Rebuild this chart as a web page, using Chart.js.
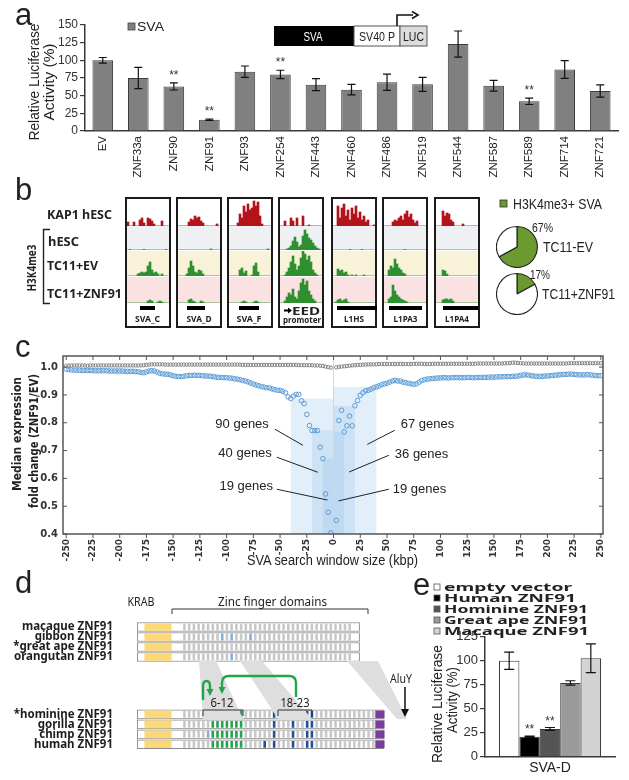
<!DOCTYPE html>
<html><head><meta charset="utf-8">
<script src="https://cdn.jsdelivr.net/npm/chart.js@4.4.0/dist/chart.umd.min.js"></script>
<style>
body{margin:0;width:629px;height:780px;position:relative;background:#fff;overflow:hidden;font-family:"Liberation Sans",Arial,sans-serif}
canvas{position:absolute;display:block}
.frame{position:absolute;box-sizing:border-box;border:2px solid #1b1b1b;z-index:4}
.blk{position:absolute;background:#000;z-index:4}
</style></head><body>

<canvas id="ca" width="629" height="185" style="left:0px;top:0px"></canvas>
<canvas id="cc" width="629" height="240" style="left:0px;top:335px"></canvas>
<canvas id="cd" width="420" height="170" style="left:0px;top:600px"></canvas>
<canvas id="ce" width="209" height="160" style="left:420px;top:620px"></canvas>
<canvas id="pie1" width="42" height="42" style="left:496px;top:226px"></canvas>
<canvas id="pie2" width="42" height="42" style="left:496px;top:273px"></canvas>
<div id="tracks"></div>

<svg width="629" height="780" style="position:absolute;left:0;top:0;z-index:0;pointer-events:none">
<polygon points="199,661 216,661 243,719 203,719" fill="#dedede"/>
<polygon points="240,661 262,661 312,719 278,719" fill="#dedede"/>
<polygon points="347,661 378,661 407,719 397,719" fill="#dedede"/>
</svg>

<svg width="629" height="780" style="position:absolute;left:0;top:0;z-index:5;pointer-events:none" font-family="Liberation Sans, Arial, sans-serif" fill="#222">
<!-- panel letters -->
<text x="15" y="25" font-size="31">a</text>
<text x="15" y="200" font-size="31">b</text>
<text x="15" y="357" font-size="31">c</text>
<text x="15" y="593" font-size="31">d</text>
<text x="413" y="595" font-size="31">e</text>

<!-- panel a -->
<text transform="translate(34,82) rotate(-90)" text-anchor="middle" dominant-baseline="central" font-size="14" textLength="117" lengthAdjust="spacingAndGlyphs">Relative Luciferase</text>
<text transform="translate(49,82) rotate(-90)" text-anchor="middle" dominant-baseline="central" font-size="14" textLength="77" lengthAdjust="spacingAndGlyphs">Activity (%)</text>
<rect x="128" y="23" width="7" height="7" fill="#7f7f7f" stroke="#444" stroke-width="0.8"/>
<text x="137" y="31" font-size="13" textLength="27" lengthAdjust="spacingAndGlyphs">SVA</text>
<rect x="274" y="26" width="80" height="20" fill="#000"/>
<text x="313" y="41" font-size="13" fill="#fff" text-anchor="middle" textLength="19" lengthAdjust="spacingAndGlyphs">SVA</text>
<rect x="354" y="26" width="46" height="20" fill="#fff" stroke="#555" stroke-width="1"/>
<text x="377" y="41" font-size="13" text-anchor="middle" textLength="36" lengthAdjust="spacingAndGlyphs">SV40 P</text>
<rect x="400" y="26" width="27" height="20" fill="#dcdcdc" stroke="#555" stroke-width="1"/>
<text x="413.5" y="41" font-size="13" text-anchor="middle" textLength="21" lengthAdjust="spacingAndGlyphs">LUC</text>
<path d="M397 26 V15 H413" stroke="#111" stroke-width="1.6" fill="none"/>
<path d="M412 11.5 L418 15 L412 18.5" stroke="#111" stroke-width="1.6" fill="none"/>

<!-- panel b labels -->
<g font-family="Noto Sans, Open Sans, sans-serif" font-weight="bold">
<text x="47" y="219" font-size="13" textLength="65" lengthAdjust="spacingAndGlyphs">KAP1 hESC</text>
<text transform="translate(31,268) rotate(-90)" text-anchor="middle" dominant-baseline="central" font-size="13" textLength="47" lengthAdjust="spacingAndGlyphs">H3K4me3</text>
<text x="48" y="245.5" font-size="13" textLength="31" lengthAdjust="spacingAndGlyphs">hESC</text>
<text x="47" y="270" font-size="13" textLength="51" lengthAdjust="spacingAndGlyphs">TC11+EV</text>
<text x="47" y="298" font-size="13" textLength="75" lengthAdjust="spacingAndGlyphs">TC11+ZNF91</text>
<g font-size="8.5">
<text x="147.5" y="322" text-anchor="middle" textLength="25" lengthAdjust="spacingAndGlyphs">SVA_C</text>
<text x="199" y="322" text-anchor="middle" textLength="25" lengthAdjust="spacingAndGlyphs">SVA_D</text>
<text x="249" y="322" text-anchor="middle" textLength="25" lengthAdjust="spacingAndGlyphs">SVA_F</text>
<text x="306" y="314.5" text-anchor="middle" font-size="10" textLength="28" lengthAdjust="spacingAndGlyphs">EED</text>
<text x="302" y="323" text-anchor="middle" textLength="38" lengthAdjust="spacingAndGlyphs">promoter</text>
<text x="354" y="322" text-anchor="middle" textLength="20" lengthAdjust="spacingAndGlyphs">L1HS</text>
<text x="405.5" y="322" text-anchor="middle" textLength="24" lengthAdjust="spacingAndGlyphs">L1PA3</text>
<text x="457" y="322" text-anchor="middle" textLength="24" lengthAdjust="spacingAndGlyphs">L1PA4</text>
</g>
</g>
<path d="M50 229.5 H43.5 V303.5 H50" stroke="#222" stroke-width="1.4" fill="none"/>
<path d="M284 310.5 H289" stroke="#000" stroke-width="2"/>
<path d="M288 307.5 L292 310.5 L288 313.5 Z" fill="#000"/>
<rect x="500" y="200" width="7" height="7" fill="#6b9a30" stroke="#333" stroke-width="0.8"/>
<text x="513" y="209" font-size="14" textLength="89" lengthAdjust="spacingAndGlyphs">H3K4me3+ SVA</text>
<text x="532" y="232" font-size="13" textLength="21" lengthAdjust="spacingAndGlyphs">67%</text>
<text x="543" y="252" font-size="15" textLength="50" lengthAdjust="spacingAndGlyphs">TC11-EV</text>
<text x="530" y="279" font-size="13" textLength="20" lengthAdjust="spacingAndGlyphs">17%</text>
<text x="542" y="299" font-size="15" textLength="73" lengthAdjust="spacingAndGlyphs">TC11+ZNF91</text>

<!-- panel c titles -->
<g font-weight="bold" font-family="DejaVu Sans, sans-serif">
<text transform="translate(17,434) rotate(-90)" text-anchor="middle" dominant-baseline="central" font-size="12" textLength="114" lengthAdjust="spacingAndGlyphs">Median expression</text>
<text transform="translate(34,441) rotate(-90)" text-anchor="middle" dominant-baseline="central" font-size="12" textLength="134" lengthAdjust="spacingAndGlyphs">fold change (ZNF91/EV)</text>
</g>
<text x="247" y="565" font-size="14" textLength="171" lengthAdjust="spacingAndGlyphs">SVA search window size (kbp)</text>

<!-- panel d decorations -->
<g font-family="Noto Sans, Open Sans, sans-serif">
<text x="141" y="606" font-size="12" text-anchor="middle" textLength="27" lengthAdjust="spacingAndGlyphs">KRAB</text>
<text x="218" y="606" font-size="12.5" textLength="109" lengthAdjust="spacingAndGlyphs">Zinc finger domains</text>
<text x="222" y="707" font-size="13" text-anchor="middle" textLength="23" lengthAdjust="spacingAndGlyphs">6-12</text>
<text x="295" y="707" font-size="13" text-anchor="middle" textLength="29" lengthAdjust="spacingAndGlyphs">18-23</text>
<text x="401" y="683" font-size="12.5" text-anchor="middle" textLength="22" lengthAdjust="spacingAndGlyphs">AluY</text>
</g>
<path d="M172 614 V609 H368 V614" stroke="#333" stroke-width="1" fill="none"/>
<path d="M203 716 V710 H243 V716" stroke="#333" stroke-width="1" fill="none"/>
<path d="M278 716 V710 H312 V716" stroke="#333" stroke-width="1" fill="none"/>
<path d="M405 687 V711" stroke="#111" stroke-width="1.5"/>
<path d="M401 709 L405 717 L409 709 Z" fill="#111"/>
<path d="M203 700 V686 Q203 681 206.5 681 Q210 681 210 686 V690" stroke="#22a548" stroke-width="2.4" fill="none"/>
<path d="M206.5 689 L213.5 689 L210 696 Z" fill="#22a548"/>
<path d="M296 697 V683 Q296 676 289 676 H229 Q222 676 222 683 V688" stroke="#22a548" stroke-width="2.4" fill="none"/>
<path d="M218.5 687 L225.5 687 L222 694 Z" fill="#22a548"/>

<!-- panel e -->
<g font-family="Noto Sans, Open Sans, sans-serif" font-weight="bold" font-size="10.5" id="legE"></g>
<text transform="translate(437,704) rotate(-90)" text-anchor="middle" dominant-baseline="central" font-size="14" textLength="118" lengthAdjust="spacingAndGlyphs">Relative Luciferase</text>
<text transform="translate(452,700) rotate(-90)" text-anchor="middle" dominant-baseline="central" font-size="14" textLength="66" lengthAdjust="spacingAndGlyphs">Activity (%)</text>
</svg>

<script>
// ---------------- Panel a data ----------------
const znfNames = ['EV','ZNF33a','ZNF90','ZNF91','ZNF93','ZNF254','ZNF443','ZNF460','ZNF486','ZNF519','ZNF544','ZNF587','ZNF589','ZNF714','ZNF721'];
const svaActivity = [100,75,63,16,84,80,65.5,58.5,69,66,123,64,42,87,56.5];
const svaError = [4,15,5,1,8,6,8.5,7.5,11.5,10,18.5,7.5,4.5,12.5,8.7];
const svaSignificant = [0,0,1,1,0,1,0,0,0,0,0,0,1,0,0];

// ---------------- Panel b data ----------------
const trackElements = ['SVA_C','SVA_D','SVA_F','EED promoter','L1HS','L1PA3','L1PA4'];
const kap1Signal = [
 [4,0,0,4,0,0,6,8,3,0,8,7,5,2,0,0,0,5,0,0,0],
 [0,0,0,0,0,4,7,6,10,8,9,5,3,0,0,0,0,0,0,2,0],
 [0,0,0,0,3,12,8,20,14,22,16,18,25,20,24,10,2,0,0,0,0],
 [0,0,5,0,0,8,5,0,8,0,0,10,0,0,1,0,0,0,0,0,0],
 [0,0,20,8,18,22,10,16,6,18,12,20,8,14,6,10,4,6,0,0,1],
 [0,0,0,0,4,6,5,8,10,6,12,15,9,12,6,3,5,0,0,0,0],
 [0,0,0,15,10,13,12,6,4,0,0,0,0,2,0,0,0,0,0,0,0]
];
const hescSignal = [
 [0,0.6,0,0,0,0,0,0,0.6,0,0,0,0,0,0,0,0,0,0,0.6,0],
 [0,0,0,0,0,0,0,0,0,0,0,0,0,0,0,0,1,0,0,0,0],
 [0,0,0,0,0,0,0,0,0,0,0,0,0,0,0,0,0,0,0,1,0],
 [0,0,0,1,2,4,9,13,8,3,5,14,20,16,12,10,7,4,2,1,0],
 [0,0,0,0,0,0,0,0,0.6,0,0,0,0,0,0.6,0,0,0,0,0,0],
 [0,0,0,0,0,0,0,0,0,0,0.6,0,0,0,0,0,0,0,0,0,0],
 [0,0,0,0,0,0,0,0,0,0,0,0,0,0,0,0,0,0,0,0,0]
];
const tc11EvSignal = [
 [0,0,0,0,0,2,3,4,3,4,10,14,6,3,4,2,0,2,0,0,0],
 [0,0,0,0,2,8,15,10,4,3,6,5,2,0,0,0,0,0,0,0,0],
 [0,0,0,0,0,6,8,3,5,0,0,1,10,13,4,0,0,0,0,0,0],
 [0,0,1,4,8,14,20,12,6,10,18,25,22,16,20,14,6,3,1,0,0],
 [0,0,7,5,6,3,4,1,0,1,0,1,0,0,0,1,0,0,0,0,0],
 [0,0,6,10,8,17,12,8,6,3,2,0,0,0,0,0,0,0,0,0,0],
 [0,0,0,6,5,2,0,0,0,0,0,0,0,0,0,0,0,0,0,0,0]
];
const tc11Znf91Signal = [
 [0,0,0,0,0,0,0,0,0,0,2,3,2,0,0,1,2,1,0,0,0],
 [0,0,0,0,0,3,4,2,1,0,0,2,1,0,0,0,0,0,0,0,0],
 [0,0,0,0,0,0,1,2,1,0,0,0,1,2,1,0,0,0,0,0,0],
 [0,0,2,6,10,8,14,6,4,12,20,24,18,22,12,8,4,2,0,0,0],
 [0,1,3,4,2,3,4,1,0,0,0,0,0,0,0,0,0,0,0,0,0],
 [0,0,4,6,18,12,8,6,4,3,2,1,0,0,0,0,0,0,0,0,0],
 [0,0,0,3,4,4,3,4,2,0,0,0,0,0,0,0,0,0,0,0,0]
];
const pieLabels = ['TC11-EV','TC11+ZNF91'];
const h3k4me3PositivePct = [67,17];

// ---------------- Panel c data ----------------
const windowKbp = [];
for (let k = -250; k <= 250; k += 2.5) { if (k !== 0) windowKbp.push(k); }
const znf91FoldChange = [
 0.993,0.991,0.990,0.989,0.989,0.989,0.988,0.988,0.988,0.988,
 0.987,0.987,0.987,0.987,0.987,0.987,0.986,0.986,0.986,0.986,
 0.986,0.986,0.985,0.985,0.985,0.985,0.984,0.983,0.981,0.980,
 0.983,0.986,0.987,0.986,0.982,0.978,0.976,0.975,0.974,0.972,
 0.969,0.967,0.966,0.966,0.967,0.969,0.970,0.970,0.971,0.970,
 0.970,0.969,0.968,0.968,0.967,0.966,0.964,0.963,0.963,0.962,
 0.962,0.961,0.960,0.958,0.957,0.955,0.952,0.950,0.947,0.943,
 0.939,0.936,0.933,0.930,0.928,0.926,0.925,0.922,0.919,0.917,
 0.916,0.913,0.908,0.893,0.887,0.896,0.902,0.902,0.879,0.869,
 0.830,0.790,0.772,0.772,0.772,0.712,0.671,0.544,0.478,0.404,
 0.449,0.808,0.845,0.767,0.789,0.824,0.789,0.861,0.880,0.899,
 0.908,0.915,0.917,0.921,0.926,0.929,0.932,0.937,0.940,0.942,
 0.946,0.950,0.952,0.950,0.950,0.946,0.944,0.942,0.940,0.938,
 0.940,0.946,0.952,0.955,0.957,0.958,0.959,0.960,0.961,0.961,
 0.962,0.962,0.961,0.962,0.962,0.963,0.962,0.962,0.962,0.963,
 0.963,0.962,0.962,0.963,0.963,0.963,0.963,0.964,0.964,0.964,
 0.965,0.965,0.965,0.966,0.966,0.966,0.967,0.967,0.968,0.970,
 0.972,0.972,0.971,0.969,0.968,0.967,0.967,0.967,0.968,0.968,
 0.969,0.970,0.971,0.972,0.973,0.974,0.974,0.975,0.975,0.974,
 0.973,0.972,0.972,0.972,0.973,0.972,0.971,0.970,0.969,0.969
];
const controlFoldChange = [
 1.005,1.006,1.006,1.006,1.006,1.006,1.006,1.006,1.005,1.006,
 1.006,1.006,1.006,1.006,1.006,1.006,1.006,1.006,1.006,1.006,
 1.006,1.006,1.006,1.006,1.006,1.006,1.006,1.006,1.006,1.007,
 1.008,1.009,1.010,1.010,1.010,1.010,1.010,1.009,1.009,1.009,
 1.009,1.009,1.009,1.009,1.009,1.009,1.009,1.009,1.009,1.009,
 1.009,1.009,1.009,1.009,1.009,1.009,1.009,1.009,1.009,1.009,
 1.009,1.009,1.009,1.009,1.009,1.009,1.008,1.008,1.008,1.008,
 1.008,1.008,1.008,1.008,1.008,1.008,1.008,1.008,1.008,1.008,
 1.008,1.008,1.008,1.008,1.008,1.008,1.008,1.007,1.007,1.007,
 1.007,1.007,1.007,1.006,1.006,1.005,1.004,1.002,1.000,0.998,
 0.999,1.001,1.002,1.003,1.004,1.005,1.006,1.007,1.008,1.008,
 1.009,1.009,1.010,1.010,1.010,1.010,1.011,1.011,1.011,1.011,
 1.011,1.011,1.011,1.011,1.012,1.011,1.011,1.011,1.011,1.012,
 1.012,1.012,1.012,1.011,1.011,1.011,1.012,1.012,1.012,1.012,
 1.012,1.012,1.012,1.012,1.012,1.012,1.012,1.012,1.012,1.012,
 1.012,1.012,1.012,1.013,1.013,1.013,1.013,1.013,1.013,1.013,
 1.013,1.013,1.013,1.014,1.014,1.015,1.016,1.016,1.015,1.014,
 1.013,1.013,1.013,1.013,1.013,1.013,1.013,1.013,1.013,1.013,
 1.013,1.013,1.013,1.013,1.013,1.013,1.013,1.014,1.014,1.014,
 1.014,1.014,1.014,1.014,1.014,1.014,1.014,1.014,1.014,1.014
];
const highlightWindows = [-40,-20,-10,10,20,40];
const geneCountLabels = ['90 genes','40 genes','19 genes','67 genes','36 genes','19 genes'];

// ---------------- Panel d data ----------------
const speciesRows = ['macaque ZNF91','gibbon ZNF91','*great ape ZNF91','orangutan ZNF91','*hominine ZNF91','gorilla ZNF91','chimp ZNF91','human ZNF91'];
const fingerCount = [36,36,36,36,41,41,41,41];
const proteinLength = [47.1,47.1,47.1,47.1,52.3,52.3,52.3,52.3];
const krabDomain = [1.6,7.2];
const aluYInsert = [50.5,52.3];
const lightBlueFingers = [[],[9,11,15],[],[11],[],[],[6],[]];
const greenFingers = [[],[],[],[],[7,8,9,10,11,12,13],[7,8,9,10,11,12,13],[7,8,9,10,11,12,13],[7,8,9,10,11,12,13]];
const darkBlueFingers = [[],[],[],[],[20,24,27,28],[20,24,27,28],[20,24,27,28],[18,20,24,27,28]];

// ---------------- Panel e data ----------------
const eConstructs = ['empty vector','Human ZNF91','Hominine ZNF91','Great ape ZNF91','Macaque ZNF91'];
const sva_dActivity = [100,20.8,28.9,76.8,102.5];
const sva_dError = [9,0.6,1.5,2.3,15];
const sva_dSignificant = [0,1,1,0,0];

// =================================================
Chart.defaults.font.family = "'Liberation Sans', Arial, sans-serif";
Chart.defaults.animation = false;
Chart.defaults.responsive = false;
Chart.defaults.plugins.legend.display = false;
Chart.defaults.plugins.tooltip.enabled = false;

function errorBarPlugin(errs, sig, cap, starGap) {
  return {
    id: 'errbars',
    afterDatasetsDraw(chart) {
      const ctx = chart.ctx, ys = chart.scales.y;
      ctx.save();
      chart.data.datasets.forEach((ds, di) => {
        const meta = chart.getDatasetMeta(di);
        meta.data.forEach((bar, i) => {
          const v = ds.data[i], e = errs[di][i];
          const y1 = ys.getPixelForValue(v + e), y2 = ys.getPixelForValue(v - e), x = bar.x;
          ctx.strokeStyle = '#111'; ctx.lineWidth = 1.2;
          ctx.beginPath();
          ctx.moveTo(x, y1); ctx.lineTo(x, y2);
          ctx.moveTo(x - cap, y1); ctx.lineTo(x + cap, y1);
          ctx.moveTo(x - cap, y2); ctx.lineTo(x + cap, y2);
          ctx.stroke();
          if (sig[di][i]) {
            ctx.fillStyle = '#333'; ctx.font = '12px "Liberation Sans", Arial';
            ctx.textAlign = 'center'; ctx.textBaseline = 'alphabetic';
            ctx.fillText('**', x, y1 - starGap + 6);
          }
        });
      });
      ctx.restore();
    }
  };
}

// ---------- Panel a ----------
new Chart(document.getElementById('ca'), {
  type: 'bar',
  data: { labels: znfNames, datasets: [{ label: 'SVA', data: svaActivity, backgroundColor: '#808080', borderColor: '#3c3c3c', borderWidth: 1, barPercentage: 0.58, categoryPercentage: 1 }] },
  options: {
    layout: { padding: { top: 25, right: 11, left: 0, bottom: 0 } },
    scales: {
      x: { grid: { display: false, drawTicks: false }, border: { color: '#3a3a3a', width: 1.5 },
           ticks: { autoSkip: false, minRotation: 90, maxRotation: 90, padding: 5, color: '#222', font: { size: 11.5 } },
           afterFit(s) { s.height = 54; } },
      y: { min: 0, max: 150, ticks: { stepSize: 25, color: '#333', font: { size: 12 }, padding: 2 },
           grid: { drawOnChartArea: false, drawTicks: true, tickLength: 5, color: '#3a3a3a', lineWidth: 1.2 },
           border: { color: '#3a3a3a', width: 1.5 }, afterFit(s) { s.width = 85; } }
    }
  },
  plugins: [errorBarPlugin([svaError], [svaSignificant], 4, 10)]
});

// ---------- Panel b tracks ----------
const boxLeft = [125,176,227,278,331,382,434];
const trackTop = [199,226,251,277];
const trackHeight = [27,24,25,26];
const trackBg = ['#ffffff','#eef0f3','#f8f3d8','#fbe2e2'];
const trackColor = ['#b3141c','#2f902f','#2f902f','#2f902f'];
const trackSets = [kap1Signal, hescSignal, tc11EvSignal, tc11Znf91Signal];
const tracksDiv = document.getElementById('tracks');
boxLeft.forEach((bl, b) => {
  const fr = document.createElement('div');
  fr.className = 'frame';
  fr.style.cssText = `left:${bl}px;top:197px;width:46px;height:131px`;
  tracksDiv.appendChild(fr);
  trackSets.forEach((set, t) => {
    const cv = document.createElement('canvas');
    cv.width = 42; cv.height = trackHeight[t];
    cv.style.cssText = `left:${bl + 2}px;top:${trackTop[t]}px;background:${trackBg[t]}`;
    tracksDiv.appendChild(cv);
    new Chart(cv, {
      type: 'bar',
      data: { labels: set[b].map((_, i) => i), datasets: [{ data: set[b], backgroundColor: trackColor[t], borderWidth: 0, barPercentage: 1, categoryPercentage: 1 }] },
      options: { layout: { padding: 0 }, scales: { x: { display: false }, y: { display: false, min: 0, max: trackHeight[t] } } }
    });
  });
});
[[140,15],[187,18],[239,20],[337,40],[389,33],[443,35]].forEach(([l, w]) => {
  const d = document.createElement('div'); d.className = 'blk';
  d.style.cssText = `left:${l}px;top:306px;width:${w}px;height:4px`;
  tracksDiv.appendChild(d);
});

// pies
['pie1','pie2'].forEach((id, i) => {
  new Chart(document.getElementById(id), {
    type: 'pie',
    data: { labels: ['H3K4me3+ SVA','other'], datasets: [{ data: [h3k4me3PositivePct[i], 100 - h3k4me3PositivePct[i]], backgroundColor: ['#6b9a30','#ffffff'], borderColor: '#222', borderWidth: 1.1 }] },
    options: { layout: { padding: 0 } }
  });
});

// ---------- Panel c ----------
const cBlue = windowKbp.map((x, i) => ({ x, y: znf91FoldChange[i] }));
const cGray = windowKbp.map((x, i) => ({ x, y: controlFoldChange[i] }));
const valueAt = w => znf91FoldChange[windowKbp.indexOf(w)];
const cDecor = {
  id: 'cdecor',
  beforeDatasetsDraw(chart) {
    const { ctx, chartArea: a, scales: { x, y } } = chart;
    ctx.save();
    ctx.fillStyle = 'rgba(150,195,235,0.28)';
    highlightWindows.forEach(w => {
      const x0 = x.getPixelForValue(0), x1 = x.getPixelForValue(w), yt = y.getPixelForValue(valueAt(w));
      ctx.fillRect(Math.min(x0, x1), yt, Math.abs(x1 - x0), a.bottom - yt);
    });
    ctx.strokeStyle = '#d6d6d6'; ctx.lineWidth = 1;
    ctx.beginPath(); ctx.moveTo(x.getPixelForValue(0), a.top); ctx.lineTo(x.getPixelForValue(0), a.bottom); ctx.stroke();
    ctx.restore();
  },
  afterDatasetsDraw(chart) {
    const { ctx, chartArea: a, scales: { x, y } } = chart;
    ctx.save();
    const ann = [
      { t: 0, tx: -60.5, ty: 0.795, al: 'right', l: [-54.9, 0.777, -28.7, 0.719] },
      { t: 1, tx: -57.7, ty: 0.691, al: 'right', l: [-53, 0.676, -14.7, 0.622] },
      { t: 2, tx: -56.7, ty: 0.572, al: 'right', l: [-53, 0.561, -5.6, 0.522] },
      { t: 3, tx: 62.9, ty: 0.795, al: 'left', l: [57.3, 0.773, 31.5, 0.722] },
      { t: 4, tx: 57.3, ty: 0.687, al: 'left', l: [51.7, 0.683, 14.6, 0.623] },
      { t: 5, tx: 55.4, ty: 0.561, al: 'left', l: [51.7, 0.561, 4.7, 0.519] }
    ];
    ctx.strokeStyle = '#222'; ctx.lineWidth = 1; ctx.fillStyle = '#222';
    ctx.font = '13px "Liberation Sans", Arial'; ctx.textBaseline = 'middle';
    ann.forEach(o => {
      ctx.beginPath();
      ctx.moveTo(x.getPixelForValue(o.l[0]), y.getPixelForValue(o.l[1]));
      ctx.lineTo(x.getPixelForValue(o.l[2]), y.getPixelForValue(o.l[3]));
      ctx.stroke();
      ctx.textAlign = o.al;
      ctx.fillText(geneCountLabels[o.t], x.getPixelForValue(o.tx), y.getPixelForValue(o.ty));
    });
    ctx.strokeStyle = '#555'; ctx.lineWidth = 1.5;
    ctx.strokeRect(a.left, a.top, a.right - a.left, a.bottom - a.top);
    ctx.lineWidth = 1;
    x.ticks.forEach(tk => {
      const px = x.getPixelForValue(tk.value);
      ctx.beginPath(); ctx.moveTo(px, a.top); ctx.lineTo(px, a.top + 4);
      ctx.moveTo(px, a.bottom); ctx.lineTo(px, a.bottom + 4); ctx.stroke();
    });
    y.ticks.forEach(tk => {
      const py = y.getPixelForValue(tk.value);
      ctx.beginPath(); ctx.moveTo(a.left, py); ctx.lineTo(a.left + 4, py);
      ctx.moveTo(a.right, py); ctx.lineTo(a.right - 4, py); ctx.stroke();
    });
    ctx.restore();
  }
};
new Chart(document.getElementById('cc'), {
  type: 'scatter',
  data: { datasets: [
    { label: 'ZNF91/EV', data: cBlue, pointRadius: 2.3, pointBorderWidth: 1, pointBorderColor: '#5b9bd5', pointBackgroundColor: 'rgba(255,255,255,0)' },
    { label: 'control', data: cGray, pointRadius: 1.7, pointBorderWidth: 0.9, pointBorderColor: '#7a7a7a', pointBackgroundColor: 'rgba(255,255,255,0)' }
  ] },
  options: {
    layout: { padding: { top: 21, right: 26, left: 0, bottom: 0 } },
    scales: {
      x: { type: 'linear', min: -253, max: 252, grid: { display: false, drawTicks: false }, border: { display: false },
           ticks: { stepSize: 25, includeBounds: false, autoSkip: false, minRotation: 90, maxRotation: 90, padding: 5, color: '#333', font: { size: 9, weight: 'bold', family: 'DejaVu Sans' }, callback: v => String(v) },
           afterFit(s) { s.height = 41; } },
      y: { min: 0.4, max: 1.04, grid: { display: false, drawTicks: false }, border: { display: false },
           ticks: { stepSize: 0.1, includeBounds: false, padding: 5, color: '#333', font: { size: 10, weight: 'bold', family: 'DejaVu Sans' }, callback: v => v.toFixed(1) },
           afterFit(s) { s.width = 63; } }
    }
  },
  plugins: [cDecor]
});

// ---------- Panel d ----------
const dRowPos = [0,1,2,3,8.75,9.75,10.75,11.75];
const zfPoints = [], zfColors = [];
speciesRows.forEach((s, r) => {
  for (let k = 1; k <= fingerCount[r]; k++) {
    zfPoints.push({ x: 9 + k, y: dRowPos[r] });
    let c = '#c8c8c8';
    if (lightBlueFingers[r].includes(k)) c = '#86ade0';
    if (greenFingers[r].includes(k)) c = '#1fa64a';
    if (darkBlueFingers[r].includes(k)) c = '#1f4f9e';
    zfColors.push(c);
  }
});
new Chart(document.getElementById('cd'), {
  type: 'bar',
  data: { datasets: [
    { type: 'bar', indexAxis: 'y', grouped: false, order: 4, data: speciesRows.map((s, r) => ({ y: dRowPos[r], x: [0, proteinLength[r]] })), backgroundColor: '#ffffff', borderColor: '#8c8c8c', borderWidth: 1, barThickness: 9, borderSkipped: false },
    { type: 'bar', indexAxis: 'y', grouped: false, order: 3, data: speciesRows.map((s, r) => ({ y: dRowPos[r], x: krabDomain })), backgroundColor: '#fcd876', borderWidth: 0, barThickness: 7 },
    { type: 'bar', indexAxis: 'y', grouped: false, order: 2, data: speciesRows.map((s, r) => ({ y: dRowPos[r], x: r >= 4 ? aluYInsert : null })), backgroundColor: '#7a3d9c', borderWidth: 0, barThickness: 7 },
    { type: 'scatter', order: 1, data: zfPoints, pointStyle: 'line', rotation: 90, pointRadius: 3.4, pointBorderWidth: 2.6, pointBorderColor: zfColors, pointBackgroundColor: zfColors }
  ] },
  options: {
    layout: { padding: { top: 10.7, bottom: 3.4, right: 5.4, left: 0 } },
    scales: {
      x: { type: 'linear', min: 0, max: 54, display: false },
      y: { type: 'linear', reverse: true, min: -0.7, max: 12.4, grid: { display: false, drawTicks: false }, border: { display: false },
           afterBuildTicks(s) { s.ticks = dRowPos.map(v => ({ value: v })); },
           ticks: { autoSkip: false, padding: 3, color: '#1e1e1e', font: { size: 11.5, weight: 'bold', family: 'Noto Sans' }, callback: (v, i) => speciesRows[i] },
           afterFit(s) { s.width = 116; } }
    }
  }
});

// ---------- Panel e ----------
const eFill = ['#ffffff','#000000','#555555','#9a9a9a','#d3d3d3'];
new Chart(document.getElementById('ce'), {
  type: 'bar',
  data: { labels: ['SVA-D'], datasets: eConstructs.map((c, i) => ({ label: c, data: [sva_dActivity[i]], backgroundColor: eFill[i], borderColor: '#3a3a3a', borderWidth: 1, barPercentage: 1, categoryPercentage: 0.785 })) },
  options: {
    layout: { padding: { top: 16.7, right: 14, left: 0, bottom: 0 } },
    scales: {
      x: { grid: { display: false, drawTicks: false }, border: { color: '#3a3a3a', width: 1.5 },
           ticks: { padding: 3, color: '#222', font: { size: 14 } }, afterFit(s) { s.height = 23.3; } },
      y: { min: 0, max: 125, ticks: { stepSize: 25, color: '#333', font: { size: 13 }, padding: 2 },
           grid: { drawOnChartArea: false, drawTicks: true, tickLength: 5, color: '#3a3a3a', lineWidth: 1.2 },
           border: { color: '#3a3a3a', width: 1.5 }, afterFit(s) { s.width = 65; } }
    }
  },
  plugins: [errorBarPlugin(sva_dError.map(e => [e]), sva_dSignificant.map(s => [s]), 5, 9)]
});
const legE = document.getElementById('legE');
const legW = [128, 132, 144, 144, 145];
eConstructs.forEach((c, i) => {
  const y = 587 + i * 11;
  const ns = 'http://www.w3.org/2000/svg';
  const r = document.createElementNS(ns, 'rect');
  r.setAttribute('x', 434); r.setAttribute('y', y - 3); r.setAttribute('width', 6); r.setAttribute('height', 6);
  r.setAttribute('fill', eFill[i]); r.setAttribute('stroke', '#555'); r.setAttribute('stroke-width', 0.8);
  legE.appendChild(r);
  const t = document.createElementNS(ns, 'text');
  t.setAttribute('x', 444); t.setAttribute('y', y + 4);
  t.setAttribute('textLength', legW[i]); t.setAttribute('lengthAdjust', 'spacingAndGlyphs');
  t.textContent = c;
  legE.appendChild(t);
});
</script>
</body></html>
